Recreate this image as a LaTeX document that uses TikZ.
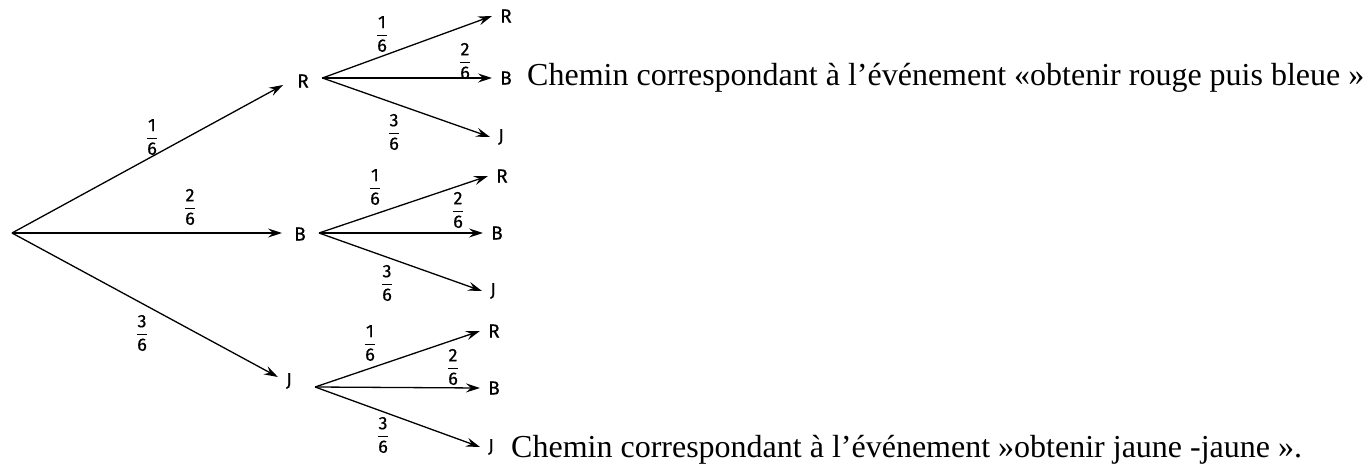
\documentclass[tikz,border=0pt]{standalone}
\usepackage{fontspec}
\setmainfont{Liberation Serif}
\newfontfamily\treefont[FakeBold=0.6]{Fira Sans}
\usetikzlibrary{arrows.meta}
\tikzset{
  arr/.style={line width=1.3pt,-{Stealth[length=14pt,width=9pt,inset=5pt]}},
  lab/.style={font=\treefont\fontsize{19}{19}\selectfont,inner sep=0pt},
  lab2/.style={lab,anchor=west},
  frc/.style={font=\treefont\fontsize{18}{18}\selectfont,inner sep=0pt},
  captext/.style={font=\fontsize{32}{32}\selectfont,anchor=base west,inner sep=0pt}
}
\newcommand\fr[2]{$\displaystyle\frac{\mbox{#1}}{\mbox{#2}}$}
\begin{document}
\begin{tikzpicture}[x=1pt,y=-1pt]
\useasboundingbox (0,0) rectangle (1372,465);
\coordinate (O) at (12,233);
% level 1
\node[lab] (R1) at (303,81) {R};
\node[lab] (B1) at (300,234) {B};
\node[lab] (J1) at (289,381) {J};
\draw[arr] (O) -- ([shift={(-14pt,-4pt)}]R1.west);
\draw[arr] (O) -- ([shift={(-12pt,1pt)}]B1.west);
\draw[arr] (O) -- ([shift={(-8pt,4pt)}]J1.west);
\coordinate (vR) at ([shift={(13.5pt,3pt)}]R1.east);
\coordinate (vB) at ([shift={(13pt,1pt)}]B1.east);
\coordinate (vJ) at ([shift={(23pt,-6pt)}]J1.east);
\node[frc] (f1) at (152,137) {\fr{1}{6}};
\node[frc] (f2) at (190,207) {\fr{2}{6}};
\node[frc] (f3) at (142,333) {\fr{3}{6}};
% level 2 from R
\node[lab2] (RR) at (500,16) {R};
\node[lab2] (RB) at (500,78) {B};
\node[lab2] (RJ) at (498,137) {J};
\draw[arr] (vR) -- ([xshift=-8pt]RR.west);
\draw[arr] (vR) -- ([xshift=-8pt]RB.west);
\draw[arr] (vR) -- ([xshift=-8pt]RJ.west);
\node[frc] (fRR) at (382,34) {\fr{1}{6}};
\node[frc] (fRB) at (465,61) {\fr{2}{6}};
\node[frc] (fRJ) at (394,132) {\fr{3}{6}};
% level 2 from B
\node[lab2] (BR) at (496,176) {R};
\node[lab2] (BB) at (491,233) {B};
\node[lab2] (BJ) at (490,291) {J};
\draw[arr] (vB) -- ([xshift=-8pt]BR.west);
\draw[arr] (vB) -- ([xshift=-8pt]BB.west);
\draw[arr] (vB) -- ([xshift=-8pt]BJ.west);
\node[frc] (fBR) at (375,187) {\fr{1}{6}};
\node[frc] (fBB) at (458,210) {\fr{2}{6}};
\node[frc] (fBJ) at (387,283) {\fr{3}{6}};
% level 2 from J
\node[lab2] (JR) at (488,331) {R};
\node[lab2] (JB) at (488,388) {B};
\node[lab2] (JJ) at (488,447) {J};
\draw[arr] (vJ) -- ([xshift=-8pt]JR.west);
\draw[arr] (vJ) -- ([xshift=-8pt]JB.west);
\draw[arr] (vJ) -- ([xshift=-8pt]JJ.west);
\node[frc] (fJR) at (370,343) {\fr{1}{6}};
\node[frc] (fJB) at (453,367) {\fr{2}{6}};
\node[frc] (fJJ) at (383,435) {\fr{3}{6}};
% captions
\node[captext] (c1) at (527,86) {Chemin correspondant à l’événement «obtenir rouge puis bleue »};
\node[captext] (c2) at (511,457) {Chemin correspondant à l’événement »obtenir jaune -jaune ».};
\end{tikzpicture}
\end{document}
